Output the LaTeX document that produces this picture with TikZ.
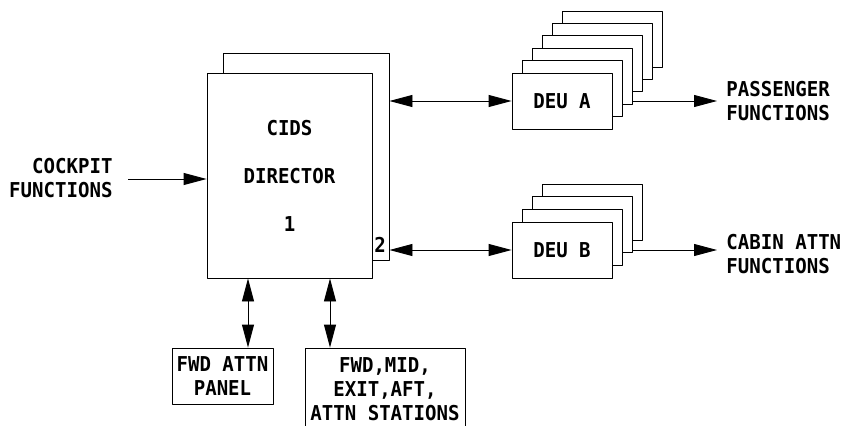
\documentclass[tikz,border=0pt]{standalone}
\usepackage{fontspec}
\newfontfamily\cidsfont{DejaVu Sans Mono}[FakeStretch=0.93]
\usetikzlibrary{arrows.meta}
\tikzset{
	unit/.style={draw, fill=white, inner sep=0pt, align=center},
	deubox/.style={unit, minimum width=100pt, minimum height=56pt},
	txt/.style={inner sep=0pt, align=#1},
	txt/.default=left
}
\begin{document}
\begin{tikzpicture}[x=1pt, y=-1pt, line width=0.9pt, line join=round, font=\cidsfont\bfseries\fontsize{20.5}{24}\selectfont, >={Triangle[length=23pt,width=12pt]}]
	\useasboundingbox (0,0) rectangle (844,426);
	% CIDS director, 2 units
	\node[unit, minimum width=166pt, minimum height=207pt] (dirB) at (306,156.5) {};
	\node[unit, minimum width=165pt, minimum height=205pt] (dir) at (289.5,175.5) {CIDS\\[24pt]DIRECTOR\\[24pt]1};
	\node (two) at (380,245) {2};
	% DEU stacks
	\foreach \i in {5,4,...,1} \node[deubox] (deuA\i) at (562+10*\i,101-12.4*\i) {};
	\node[deubox] (deuA) at (562,101) {DEU A};
	\foreach \i in {3,2,1} \node[deubox] (deuB\i) at (562+10*\i,250-12.6*\i) {};
	\node[deubox] (deuB) at (562,250) {DEU B};
	% attendant panels
	\node[unit, minimum width=101pt, minimum height=56pt] (panel) at (222.5,376) {FWD ATTN\\PANEL};
	\node[unit, minimum width=160pt, minimum height=82pt] (stations) at (385,389) {FWD,MID,\\EXIT,AFT,\\ATTN STATIONS};
	% functions
	\node[txt=right, anchor=east] (cockpit) at (113,178) {COCKPIT\\FUNCTIONS};
	\node[txt, anchor=west] (pax) at (726,101) {PASSENGER\\FUNCTIONS};
	\node[txt, anchor=west] (cabin) at (726,254) {CABIN ATTN\\FUNCTIONS};
	\draw[->] (cockpit.east) ++(15,1) coordinate (ck) -- (ck -| dir.west);
	\draw[<->] (deuA.west) -- (deuA.west -| dirB.east);
	\draw[<->] (deuB.west) -- (deuB.west -| dirB.east);
	\draw[->] (deuA2.east |- deuA.east) -- ([xshift=-9]pax.west |- deuA.east);
	\draw[->] (deuB2.east |- deuB.east) -- ([xshift=-9]cabin.west |- deuB.east);
	\draw[<->] ([xshift=25.5]panel.north) -- ([xshift=25.5]panel.north |- dir.south);
	\draw[<->] ([xshift=-55]stations.north) -- ([xshift=-55]stations.north |- dir.south);
\end{tikzpicture}
\end{document}
